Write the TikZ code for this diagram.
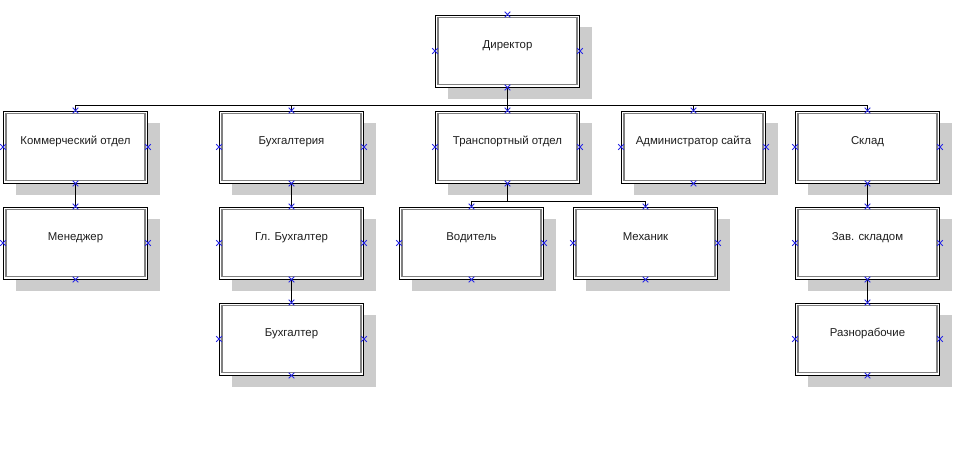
\documentclass[tikz,border=0pt]{standalone}
\usepackage{fontspec}
\setmainfont{Liberation Sans}
\usepackage{xcolor}
\usetikzlibrary{shadows}

\definecolor{shadowgray}{RGB}{204,204,204}
\definecolor{framegray}{RGB}{128,128,128}
\definecolor{markblue}{RGB}{40,40,230}
\definecolor{textgray}{RGB}{30,30,30}

\tikzset{
  unitbox/.style={rectangle, draw=black, line width=1pt, fill=white,
    minimum width=144pt, minimum height=72pt, inner sep=0pt,
    text height=8pt, text depth=14pt, text=textgray,
    font=\fontsize{11.4}{13}\selectfont,
    general shadow={fill=shadowgray, shadow xshift=12pt, shadow yshift=-12pt}},
  link/.style={line width=1pt, black},
  xmark/.pic={\draw[markblue, line width=0.9pt] (-2.8,-2.8) -- (2.8,2.8) (-2.8,2.8) -- (2.8,-2.8);}
}

\begin{document}
\begin{tikzpicture}[x=1pt, y=-1pt]
            \useasboundingbox (0,0) rectangle (969,456);
            % boxes
            \node [unitbox] (dir) at (507.5,51) {Директор};
            \node [unitbox] (komm) at (75.5,147) {Коммерческий отдел};
            \node [unitbox] (buh) at (291.5,147) {Бухгалтерия};
            \node [unitbox] (trans) at (507.5,147) {Транспортный отдел};
            \node [unitbox] (admin) at (693.5,147) {Администратор сайта};
            \node [unitbox] (sklad) at (867.5,147) {Склад};
            \node [unitbox] (manager) at (75.5,243) {Менеджер};
            \node [unitbox] (glbuh) at (291.5,243) {Гл. Бухгалтер};
            \node [unitbox] (vod) at (471.5,243) {Водитель};
            \node [unitbox] (mech) at (645.5,243) {Механик};
            \node [unitbox] (zav) at (867.5,243) {Зав. складом};
            \node [unitbox] (buhg) at (291.5,339) {Бухгалтер};
            \node [unitbox] (razn) at (867.5,339) {Разнорабочие};
            % inner frames
            \foreach \n in {dir,komm,buh,trans,admin,sklad,manager,glbuh,vod,mech,zav,buhg,razn}
              \draw [framegray, line width=1.3pt] ([shift={(3,3)}]\n.north west) rectangle ([shift={(-3,-3)}]\n.south east);
            % connectors
            \foreach \c in {komm,buh,trans,admin,sklad}
              \draw [link] (dir.south) -- ++(0,18) -| (\c.north);
            \foreach \c in {vod,mech}
              \draw [link] (trans.south) -- ++(0,18) -| (\c.north);
            \draw [link] (komm.south) -- (manager.north);
            \draw [link] (buh.south) -- (glbuh.north);
            \draw [link] (glbuh.south) -- (buhg.north);
            \draw [link] (sklad.south) -- (zav.north);
            \draw [link] (zav.south) -- (razn.north);
            % markers
            \foreach \n in {dir,komm,buh,trans,admin,sklad,manager,glbuh,vod,mech,zav,buhg,razn}
              \foreach \a in {north,south,east,west}
                \pic at (\n.\a) {xmark};
        \end{tikzpicture}
\end{document}
